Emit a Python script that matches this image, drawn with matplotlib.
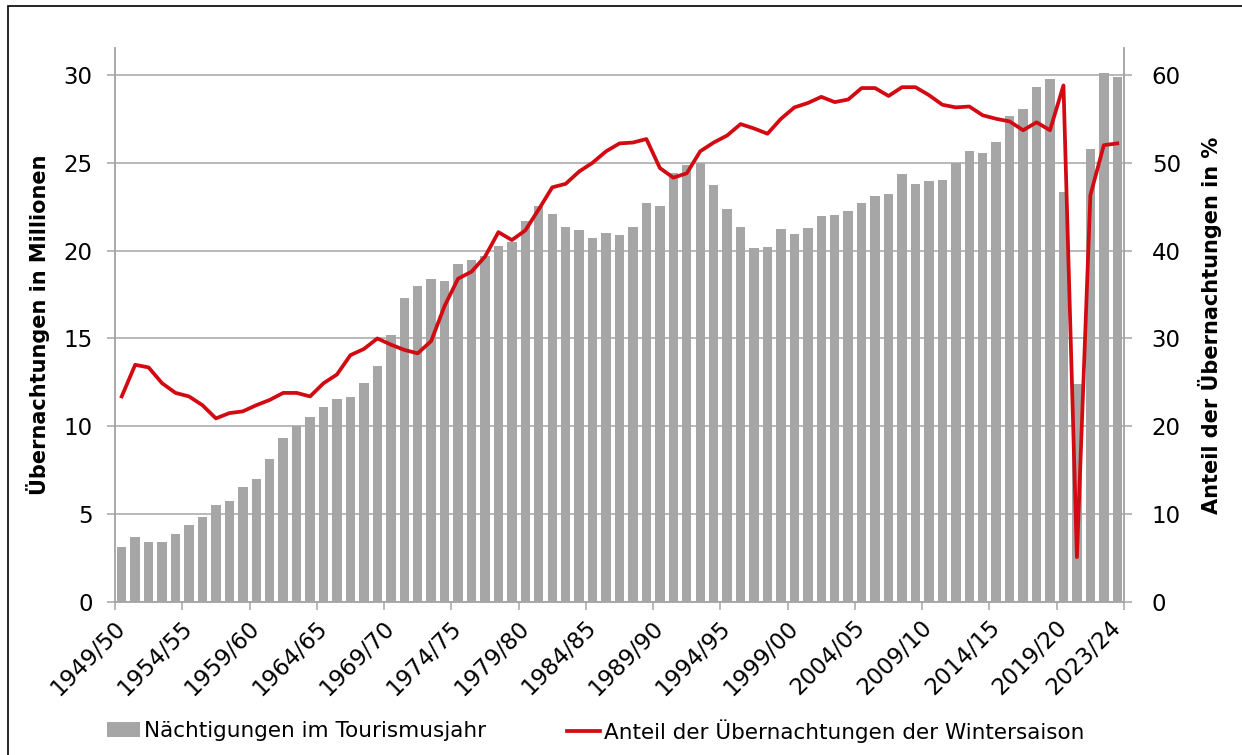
import matplotlib
matplotlib.use("Agg")
import numpy as np
from matplotlib import pyplot as plt
from matplotlib.patches import Rectangle

# Tourismusjahre 1949/50 .. 2023/24
seasons = [f"{y}/{(y + 1) % 100:02d}" for y in range(1949, 2024)]

# Nächtigungen im Tourismusjahr (Mio.)
naechtigungen = [
    3.11, 3.68, 3.41, 3.41, 3.86, 4.39, 4.84, 5.53, 5.77, 6.52,
    6.99, 8.15, 9.35, 10.02, 10.53, 11.12, 11.54, 11.65, 12.46, 13.46,
    15.18, 17.32, 18.01, 18.39, 18.29, 19.25, 19.49, 19.70, 20.26, 20.50,
    21.69, 22.52, 22.10, 21.36, 21.16, 20.69, 20.98, 20.89, 21.32, 22.72,
    22.52, 24.39, 24.86, 24.96, 23.76, 22.38, 21.32, 20.14, 20.18, 21.22,
    20.93, 21.28, 21.97, 22.03, 22.28, 22.72, 23.13, 23.23, 24.35, 23.80,
    23.98, 24.04, 25.00, 25.67, 25.53, 26.20, 27.68, 28.07, 29.33, 29.76,
    23.35, 12.40, 25.77, 30.10, 29.86,
]

# Anteil der Übernachtungen der Wintersaison (%)
anteil_winter = [
    23.4, 27.0, 26.7, 24.9, 23.8, 23.4, 22.4, 20.9, 21.5, 21.7,
    22.4, 23.0, 23.8, 23.8, 23.4, 24.9, 25.9, 28.1, 28.8, 30.0,
    29.3, 28.7, 28.3, 29.7, 33.7, 36.8, 37.6, 39.3, 42.1, 41.2,
    42.3, 44.7, 47.2, 47.6, 49.0, 50.0, 51.3, 52.2, 52.3, 52.7,
    49.4, 48.3, 48.8, 51.3, 52.3, 53.1, 54.4, 53.9, 53.3, 55.0,
    56.3, 56.8, 57.5, 56.9, 57.2, 58.5, 58.5, 57.6, 58.6, 58.6,
    57.7, 56.6, 56.3, 56.4, 55.4, 55.0, 54.7, 53.7, 54.6, 53.7,
    58.8, 5.1, 46.3, 52.0, 52.2,
]

label_idx = list(range(0, 75, 5)) + [74]

bar_color = "#A6A6A6"
line_color = "#D20A11"
grid_color = "#A6A6A6"
fs = 16.5

plt.rcParams["font.family"] = "DejaVu Sans"

fig = plt.figure(figsize=(12.42, 7.55), dpi=100)
ax1 = fig.add_axes([115 / 1242, 1 - 602 / 755, (1124 - 115) / 1242, (602 - 48) / 755])
ax2 = ax1.twinx()

x = np.arange(len(seasons))
bars = ax1.bar(x, naechtigungen, width=0.7, color=bar_color, zorder=2,
               label="Nächtigungen im Tourismusjahr")
line, = ax2.plot(x, anteil_winter, color=line_color, lw=2.7, solid_joinstyle="round",
                 label="Anteil der Übernachtungen der Wintersaison")

ax1.set_xlim(-0.5, 74.5)
ax1.set_ylim(0, 31.53)
ax2.set_ylim(0, 63.06)
ax1.set_yticks(range(0, 31, 5))
ax2.set_yticks(range(0, 61, 10))
ax1.yaxis.grid(True, color=grid_color, lw=1.1, zorder=0)
ax1.set_axisbelow(True)

# tick marks between categories, labels on the categories
ax1.set_xticks(np.arange(-0.5, 75, 5))
ax1.set_xticklabels([])
ax1.set_xticks(label_idx, minor=True)
ax1.set_xticklabels([seasons[i] for i in label_idx], minor=True, rotation=45,
                    ha="right", va="center", rotation_mode="anchor", fontsize=fs)
ax1.tick_params(axis="x", which="minor", length=0, pad=16)
ax1.tick_params(axis="x", which="major", length=6, color=grid_color, width=1.1)
ax1.tick_params(axis="y", length=6, color=grid_color, width=1.1, labelsize=fs, pad=10)
ax2.tick_params(axis="y", length=6, color=grid_color, width=1.1, labelsize=fs, pad=14)

for ax in (ax1, ax2):
    ax.spines["top"].set_visible(False)
    for s in ("left", "right", "bottom"):
        ax.spines[s].set_color(grid_color)
        ax.spines[s].set_linewidth(1.1)

ax1.set_ylabel("Übernachtungen in Millionen", fontsize=15, fontweight="bold", labelpad=10)
ax2.set_ylabel("Anteil der Übernachtungen in %", fontsize=15, fontweight="bold", labelpad=12)

leg_kw = dict(loc="center left", frameon=False, fontsize=15.5, handlelength=1.55,
              handletextpad=0.15, borderaxespad=0, borderpad=0)
fig.legend(handles=[bars], bbox_to_anchor=(107 / 1242, 1 - 731 / 755), **leg_kw)
fig.legend(handles=[line], bbox_to_anchor=(567 / 1242, 1 - 731 / 755), **leg_kw)

fig.patches.append(Rectangle((8 / 1242, -0.01), 1.02, 1.01 - 6 / 755, transform=fig.transFigure,
                             fill=False, edgecolor="black", lw=1.2))

fig.savefig("out.png", dpi=100)
